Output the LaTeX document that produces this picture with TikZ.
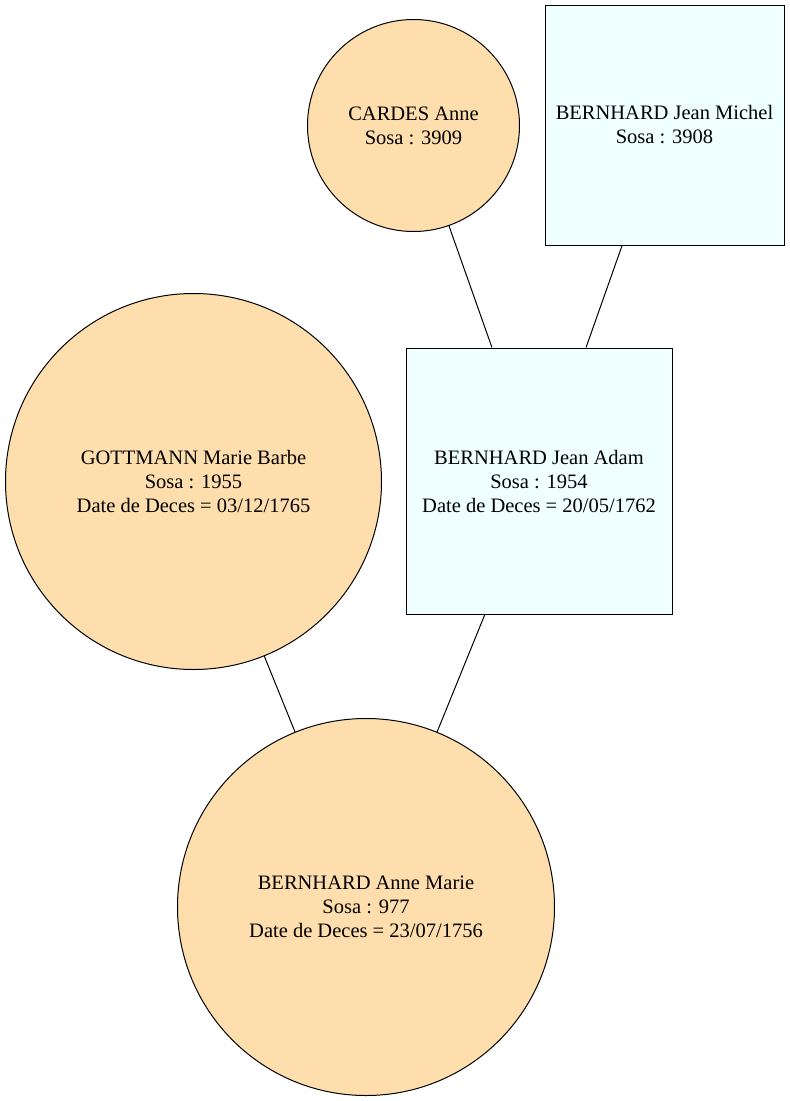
\documentclass[tikz,border=0pt]{standalone}
\usepackage{fontspec}
\setmainfont{Liberation Serif}
\usetikzlibrary{positioning}
\definecolor{navajo}{HTML}{FFDEAD}
\definecolor{azur}{HTML}{F0FFFF}
\tikzset{
  fem/.style={circle,draw,fill=navajo,inner sep=0pt,line width=1pt,align=center,font=\fontsize{20.5}{24}\selectfont},
  hom/.style={rectangle,draw,fill=azur,inner sep=0pt,line width=1pt,align=center,font=\fontsize{20.5}{24}\selectfont},
  lien/.style={line width=1pt}
}
\begin{document}
\begin{tikzpicture}[x=1pt,y=-1pt]
    \useasboundingbox (0,0) rectangle (790,1101);

    % === parents ===
    \node[fem, minimum size=212pt] (cardes) at (413.5,125.5) {CARDES Anne\\Sosa : 3909};
    \node[hom, minimum width=239pt, minimum height=240pt] (jeanmichel) at (664.5,125) {BERNHARD Jean Michel\\Sosa : 3908};

    % === generation 1954/1955 ===
    \node[fem, minimum size=376pt] (gottmann) at (193.5,481.5) {GOTTMANN Marie Barbe\\Sosa : 1955\\Date de Deces = 03/12/1765};
    \node[hom, minimum width=266pt, minimum height=266pt] (jeanadam) at (539,481) {BERNHARD Jean Adam\\Sosa : 1954\\Date de Deces = 20/05/1762};

    % === enfant ===
    \node[fem, minimum size=377pt] (annemarie) at (366,907) {BERNHARD Anne Marie\\Sosa : 977\\Date de Deces = 23/07/1756};

    % liens
    \draw[lien] (cardes) -- (jeanadam);
    \draw[lien] (jeanmichel) -- (jeanadam);
    \draw[lien] (gottmann) -- (annemarie);
    \draw[lien] (jeanadam) -- (annemarie);

\end{tikzpicture}
\end{document}
